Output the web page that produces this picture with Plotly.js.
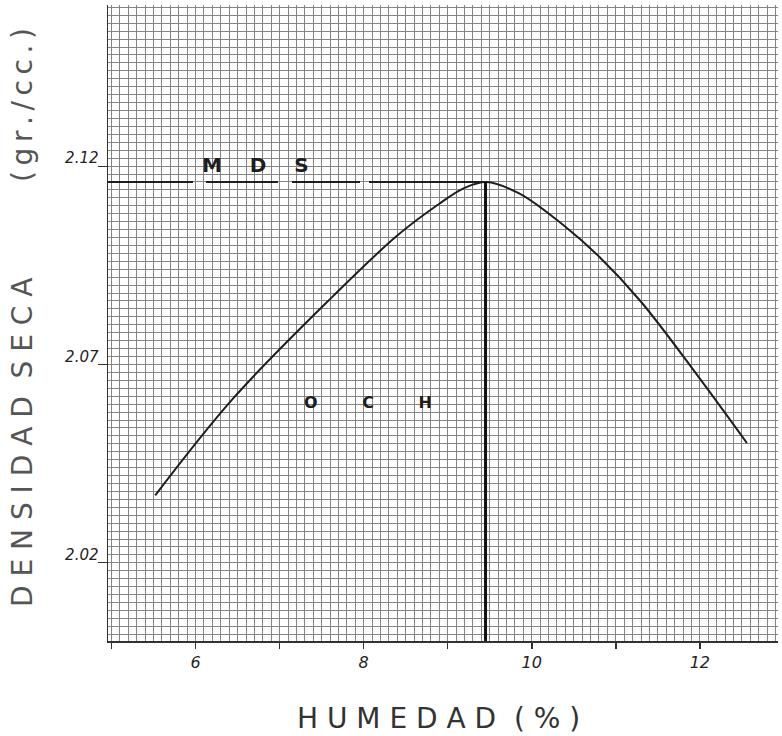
<!DOCTYPE html>
<html>
<head>
<meta charset="utf-8">
<script src="https://cdn.plot.ly/plotly-3.0.1.min.js"></script>
<style>
  html, body { margin: 0; padding: 0; background: #fff; }
  #chart { width: 782px; height: 736px; }
</style>
</head>
<body>
<div id="chart"></div>
<script>
// Compaction curve (Proctor)
const moisture = [5.52, 6.45, 7.63, 8.4, 8.9, 9.2, 9.46, 9.85, 10.4, 10.8, 11.3, 11.98, 12.56];
const dryDensity = [2.037, 2.0615, 2.0871, 2.1025, 2.1105, 2.1145, 2.116, 2.1131, 2.1047, 2.0972, 2.0858, 2.067, 2.0502];

// Optimum moisture content (OCH) and maximum dry density (MDS)
const optimumMoisture = 9.45;
const maxDryDensity = 2.116;

// Axis ticks
const xTickVals = [5, 6, 7, 8, 9, 10, 11, 12];
const xTickText = ['', '6', '', '8', '', '10', '', '12'];
const yTickVals = [2.02, 2.07, 2.12];
const yTickText = ['2.02', '2.07', '2.12'];

const xRange = [4.958, 12.93];
const yRange = [2.0003, 2.1606];

const ink = '#1e1e1e';
const gridCol = '#858585';
const sp = n => '&nbsp;'.repeat(n);

const traces = [
  {
    x: moisture, y: dryDensity, type: 'scatter', mode: 'lines',
    line: { color: ink, width: 2, shape: 'spline', smoothing: 1 },
    hoverinfo: 'skip', showlegend: false
  },
  {
    x: [xRange[0], optimumMoisture], y: [maxDryDensity, maxDryDensity],
    type: 'scatter', mode: 'lines',
    line: { color: ink, width: 2, dash: '85px,13px,72px,14px,68px,9px,300px,1px' },
    hoverinfo: 'skip', showlegend: false
  },
  {
    x: [optimumMoisture, optimumMoisture], y: [maxDryDensity, yRange[0]],
    type: 'scatter', mode: 'lines',
    line: { color: '#111', width: 3 },
    hoverinfo: 'skip', showlegend: false
  }
];

const layout = {
  width: 782, height: 736,
  margin: { l: 108, r: 4, t: 5, b: 95 },
  paper_bgcolor: '#ffffff', plot_bgcolor: '#ffffff',
  showlegend: false,
  font: { family: 'DejaVu Sans, sans-serif', color: '#333' },
  xaxis: {
    range: xRange, tickmode: 'array', tickvals: xTickVals, ticktext: xTickText,
    ticks: 'outside', ticklen: 6, tickwidth: 1.5, tickcolor: '#333',
    showline: true, linecolor: '#333', linewidth: 1.5, mirror: false,
    showgrid: true, gridcolor: gridCol, gridwidth: 1,
    zeroline: false,
    tickfont: { family: 'DejaVu Sans, sans-serif', size: 16, color: '#222', style: 'italic' },
    minor: { tickmode: 'linear', tick0: 5, dtick: 0.1, showgrid: true, gridcolor: gridCol, gridwidth: 1, ticks: '' }
  },
  yaxis: {
    range: yRange, tickmode: 'array', tickvals: yTickVals, ticktext: yTickText,
    ticks: 'outside', ticklen: 9, tickwidth: 1, tickcolor: '#333',
    ticklabelshift: -8, ticklabelstandoff: -4,
    showline: true, linecolor: '#333', linewidth: 1.5, mirror: false,
    showgrid: true, gridcolor: gridCol, gridwidth: 1,
    zeroline: false,
    tickfont: { family: 'DejaVu Sans, sans-serif', size: 15, color: '#222', style: 'italic' },
    minor: { tickmode: 'linear', tick0: 2.0, dtick: 0.002, showgrid: true, gridcolor: gridCol, gridwidth: 1, ticks: '' }
  },
  annotations: [
    { x: 6.708, y: 2.1203, xref: 'x', yref: 'y', showarrow: false,
      text: '<b>M' + sp(4) + 'D' + sp(4) + 'S</b>',
      font: { family: 'DejaVu Sans, sans-serif', size: 20, color: ink } },
    { x: 8.055, y: 2.0603, xref: 'x', yref: 'y', showarrow: false,
      text: '<b>O' + sp(8) + 'C' + sp(8) + 'H</b>',
      font: { family: 'DejaVu Sans, sans-serif', size: 16, color: ink } },
    { x: 0.5, y: 0, xref: 'paper', yref: 'paper', xanchor: 'center', yanchor: 'middle',
      xshift: -5, yshift: -77, showarrow: false,
      text: 'H U M E D A D  ( % )',
      font: { family: 'DejaVu Sans, sans-serif', size: 28, color: '#333' } },
    { x: 0, y: 0, xref: 'paper', yref: 'paper', xanchor: 'center', yanchor: 'middle',
      showarrow: false, textangle: -90,
      xshift: -86, yshift: 198,
      text: 'D E N S I D A D  S E C A',
      font: { family: 'DejaVu Sans, sans-serif', size: 28, color: '#555' } },
    { x: 0, y: 0, xref: 'paper', yref: 'paper', xanchor: 'center', yanchor: 'middle',
      showarrow: false, textangle: -90,
      xshift: -86, yshift: 536,
      text: '(\u2009g\u2009r\u2009.\u2009/\u2009c\u2009c\u2009.\u2009)',
      font: { family: 'DejaVu Sans, sans-serif', size: 28, color: '#555' } }
  ]
};

Plotly.newPlot('chart', traces, layout, { displayModeBar: false, staticPlot: true });
</script>
</body>
</html>
